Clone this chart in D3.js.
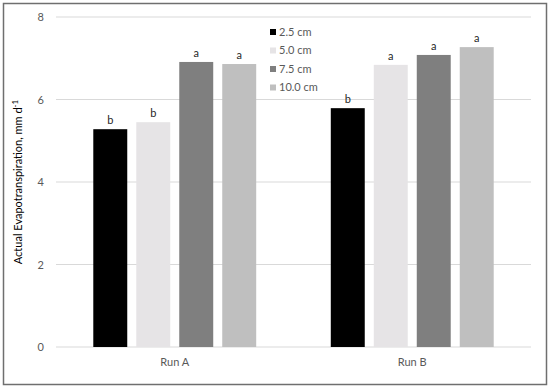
<!DOCTYPE html>
<html>
<head>
<meta charset="utf-8">
<script src="https://cdn.jsdelivr.net/npm/d3@7"></script>
<style>
  body { margin: 0; background: #fff; }
  text { font-family: Lato, "Open Sans", sans-serif; }
</style>
</head>
<body>
<div id="chart"></div>
<script>
// data
const runs = ["Run A", "Run B"];
const depths = ["2.5 cm", "5.0 cm", "7.5 cm", "10.0 cm"];
const runA = [5.28, 5.45, 6.91, 6.86];
const runB = [5.79, 6.84, 7.08, 7.27];
const lettersA = ["b", "b", "a", "a"];
const lettersB = ["b", "a", "a", "a"];
const yTicks = [0, 2, 4, 6, 8];
const colors = ["#000000", "#e6e4e6", "#7f7f7f", "#bfbfbf"];

const W = 550, H = 388;
const margin = {top: 17, right: 19, bottom: 41, left: 56};
const width = W - margin.left - margin.right,
      height = H - margin.top - margin.bottom;

const rows = [];
runs.forEach(function(r, i) {
    const vals = i === 0 ? runA : runB;
    const lets = i === 0 ? lettersA : lettersB;
    depths.forEach(function(d, j) {
        rows.push({run: r, depth: d, value: vals[j], letter: lets[j]});
    });
});

const root = d3.select("#chart").append("svg")
    .attr("width", W)
    .attr("height", H);

// outer frame
root.append("rect")
    .attr("x", 3.5).attr("y", 3.5)
    .attr("width", 543).attr("height", 381)
    .attr("fill", "#fff")
    .attr("stroke", "#6f6f6f")
    .attr("stroke-width", 1.5);

const svg = root.append("g")
    .attr("transform", `translate(${margin.left},${margin.top})`);

const x0 = d3.scaleBand().domain(runs).range([0, width])
    .paddingInner(0.314).paddingOuter(0.157);
const x1 = d3.scaleBand().domain(depths).range([0, x0.bandwidth()])
    .paddingInner(0.21);
const y = d3.scaleLinear().domain([0, 8]).range([height, 0]);
const color = d3.scaleOrdinal().domain(depths).range(colors);

// gridlines
svg.append("g")
    .selectAll("line")
    .data(yTicks)
    .join("line")
    .attr("x1", 0).attr("x2", width)
    .attr("y1", d => y(d)).attr("y2", d => y(d))
    .attr("stroke", "#d9d9d9")
    .attr("stroke-width", 1);

// y axis labels
const yAxis = svg.append("g")
    .call(d3.axisLeft(y).tickValues(yTicks).tickSize(0).tickPadding(12));
yAxis.select(".domain").remove();
yAxis.selectAll("text")
    .attr("fill", "#595959")
    .style("font-size", "11px");

// x axis labels
const xAxis = svg.append("g")
    .attr("transform", `translate(0,${height})`)
    .call(d3.axisBottom(x0).tickSize(0).tickPadding(11));
xAxis.select(".domain").remove();
xAxis.selectAll("text")
    .attr("fill", "#595959")
    .style("font-size", "11px");

// bars
const groups = svg.append("g")
    .selectAll("g")
    .data(runs)
    .join("g")
    .attr("transform", d => `translate(${x0(d)},0)`);

groups.selectAll("rect")
    .data(r => rows.filter(d => d.run === r))
    .join("rect")
    .attr("x", d => x1(d.depth))
    .attr("y", d => y(d.value))
    .attr("width", x1.bandwidth())
    .attr("height", d => y(0) - y(d.value))
    .attr("fill", d => color(d.depth));

groups.selectAll("text")
    .data(r => rows.filter(d => d.run === r))
    .join("text")
    .attr("x", d => x1(d.depth) + x1.bandwidth() / 2)
    .attr("y", d => y(d.value) - 5)
    .attr("text-anchor", "middle")
    .attr("fill", "#262626")
    .style("font-size", "11px")
    .text(d => d.letter);

// y axis title
const title = root.append("text")
    .attr("transform", `translate(22,${margin.top + height / 2}) rotate(-90)`)
    .attr("text-anchor", "middle")
    .attr("fill", "#000")
    .style("font-size", "11px");
title.append("tspan").text("Actual Evapotranspiration, mm d");
title.append("tspan").attr("dy", -4).style("font-size", "8px").text("-1");

// legend
const legend = root.append("g")
    .attr("transform", "translate(270,32)");
const item = legend.selectAll("g")
    .data(depths)
    .join("g")
    .attr("transform", (d, i) => `translate(0,${i * 18.5})`);
item.append("rect")
    .attr("x", 0).attr("y", -3)
    .attr("width", 6).attr("height", 6)
    .attr("fill", d => color(d));
item.append("text")
    .attr("x", 9).attr("y", 0)
    .attr("dy", "0.35em")
    .attr("fill", "#595959")
    .style("font-size", "11px")
    .text(d => d);
</script>
</body>
</html>
